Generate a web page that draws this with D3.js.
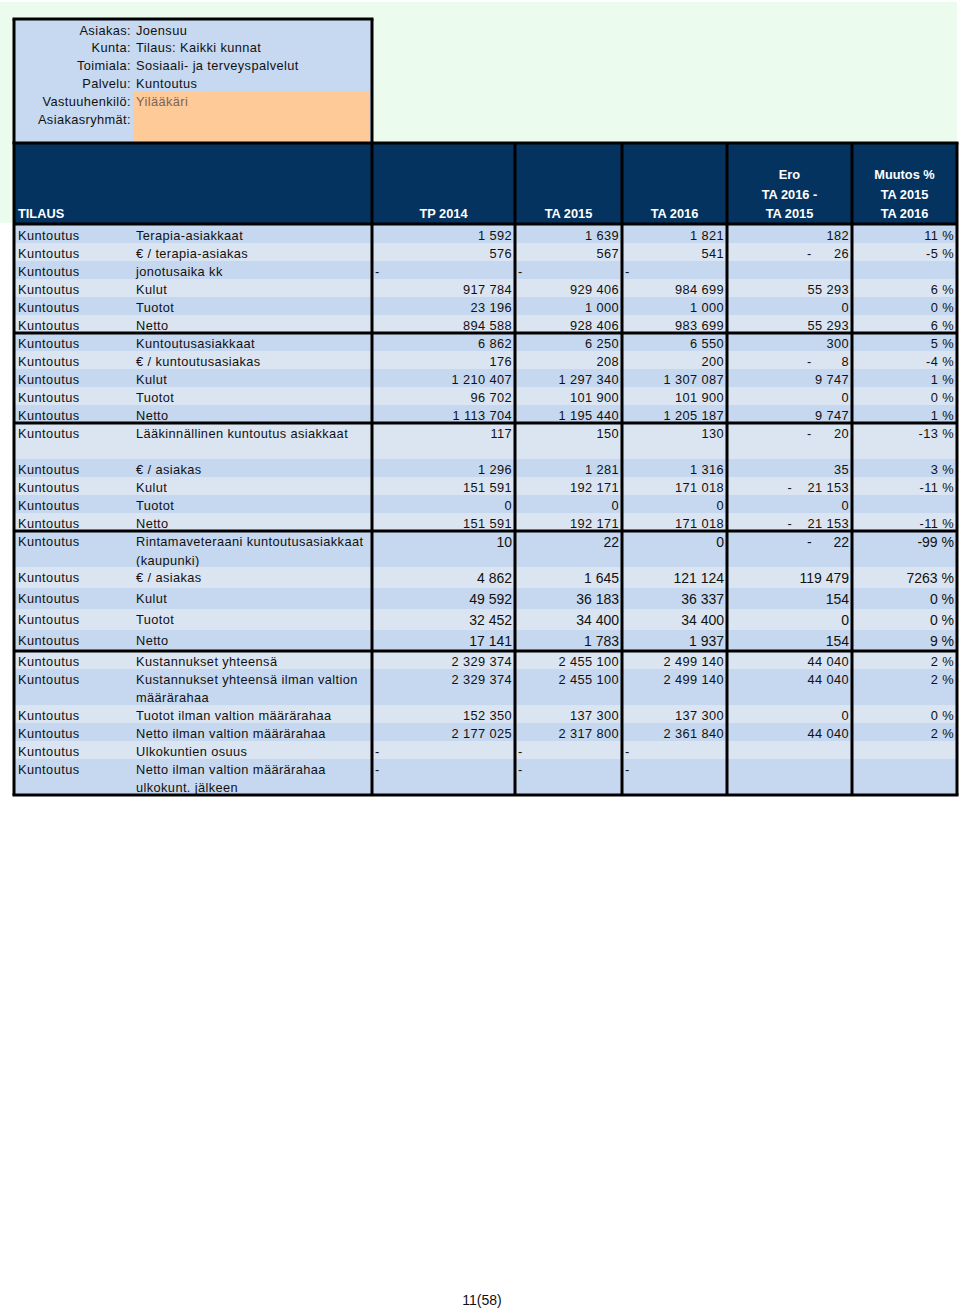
<!DOCTYPE html>
<html>
<head>
<meta charset="utf-8">
<script src="https://cdn.jsdelivr.net/npm/d3@7"></script>
<style>
  body { margin: 0; background: #fff; }
  svg text { font-family: "Liberation Sans", Arial, sans-serif; }
</style>
</head>
<body>
<script>
//-----------------Data----------------
const infoKeys = ["Asiakas:", "Kunta:", "Toimiala:", "Palvelu:", "Vastuuhenkilö:", "Asiakasryhmät:"];
const infoValues = ["Joensuu", "Tilaus: Kaikki kunnat", "Sosiaali- ja terveyspalvelut", "Kuntoutus", "Yilääkäri", ""];

const headTilaus = "TILAUS";
const headColumns = [["TP 2014"], ["TA 2015"], ["TA 2016"], ["Ero", "TA 2016 -", "TA 2015"], ["Muutos %", "TA 2015", "TA 2016"]];

const tilaus = "Kuntoutus";
const labels = [
  "Terapia-asiakkaat", "€ / terapia-asiakas", "jonotusaika kk", "Kulut", "Tuotot", "Netto",
  "Kuntoutusasiakkaat", "€ / kuntoutusasiakas", "Kulut", "Tuotot", "Netto",
  "Lääkinnällinen kuntoutus asiakkaat", "€ / asiakas", "Kulut", "Tuotot", "Netto",
  "Rintamaveteraani kuntoutusasiakkaat (kaupunki)", "€ / asiakas", "Kulut", "Tuotot", "Netto",
  "Kustannukset yhteensä", "Kustannukset yhteensä ilman valtion määrärahaa", "Tuotot ilman valtion määrärahaa",
  "Netto ilman valtion määrärahaa", "Ulkokuntien osuus", "Netto ilman valtion määrärahaa ulkokunt. jälkeen"
];
const groups = [0, 0, 0, 0, 0, 0, 1, 1, 1, 1, 1, 2, 2, 2, 2, 2, 3, 3, 3, 3, 3, 4, 4, 4, 4, 4, 4];
const rowSpans = [1, 1, 1, 1, 1, 1, 1, 1, 1, 1, 1, 2, 1, 1, 1, 1, 2, 1, 1, 1, 1, 1, 2, 1, 1, 1, 2];

// null = "-" in the year columns, blank in Ero / Muutos
const tp2014 = [1592, 576, null, 917784, 23196, 894588, 6862, 176, 1210407, 96702, 1113704,
  117, 1296, 151591, 0, 151591, 10, 4862, 49592, 32452, 17141, 2329374, 2329374, 152350, 2177025, null, null];
const ta2015 = [1639, 567, null, 929406, 1000, 928406, 6250, 208, 1297340, 101900, 1195440,
  150, 1281, 192171, 0, 192171, 22, 1645, 36183, 34400, 1783, 2455100, 2455100, 137300, 2317800, null, null];
const ta2016 = [1821, 541, null, 984699, 1000, 983699, 6550, 200, 1307087, 101900, 1205187,
  130, 1316, 171018, 0, 171018, 0, 121124, 36337, 34400, 1937, 2499140, 2499140, 137300, 2361840, null, null];
const ero = [182, -26, null, 55293, 0, 55293, 300, -8, 9747, 0, 9747,
  -20, 35, -21153, 0, -21153, -22, 119479, 154, 0, 154, 44040, 44040, 0, 44040, null, null];
const muutos = [11, -5, null, 6, 0, 6, 5, -4, 1, 0, 1,
  -13, 3, -11, null, -11, -99, 7263, 0, 0, 9, 2, 2, 0, 2, null, null];

const pageLabel = "11(58)";

//-----------------Layout----------------
const width = 960, height = 1311;
const bigGroup = 3;
const edges = [14, 133, 372, 515, 622, 727, 852, 957];
const colKeys = ["tilaus", "label", "tp2014", "ta2015", "ta2016", "ero", "muutos"];
const colLeft = d3.scaleOrdinal().domain(colKeys).range(edges.slice(0, 7));
const colRight = d3.scaleOrdinal().domain(colKeys).range(edges.slice(1));

const infoTop = 19, headTop = 143, dataTop = 225;
const navy = "#04335f", lightRow = "#dbe5f1", darkRow = "#c6d8ef", infoBlue = "#c6d9f0", orange = "#fdca98";

const rowHeights = labels.map((d, i) => rowSpans[i] === 2 ? 36 : (groups[i] === bigGroup ? 21 : 18));
const rowTops = [dataTop, ...d3.cumsum(rowHeights).map(v => v + dataTop)];
const dataBottom = rowTops[labels.length];

const fmt = v => d3.format(",")(Math.abs(v)).replace(/,/g, " ");

const svg = d3.select("body").append("svg").attr("width", width).attr("height", height);

// pale background behind the heading area
svg.append("rect").attr("x", 0).attr("y", 2).attr("width", 957).attr("height", 221).attr("fill", "#ebfcef");

//-----------------Info box----------------
svg.append("rect").attr("x", edges[0]).attr("y", infoTop).attr("width", edges[2] - edges[0]).attr("height", headTop - infoTop).attr("fill", infoBlue);
svg.append("rect").attr("x", edges[1]).attr("y", 92).attr("width", edges[2] - edges[1] - 2).attr("height", headTop - 93).attr("fill", orange);

const info = svg.selectAll("g.info").data(infoKeys).enter().append("g").attr("class", "info")
  .attr("transform", (d, i) => `translate(0, ${infoTop + 15.5 + i * 17.8})`);
info.append("text").attr("x", 131).attr("text-anchor", "end").attr("font-size", 12.8)
  .attr("letter-spacing", 0.4).attr("fill", "#111").text(d => d);
info.append("text").attr("x", 136).attr("font-size", 12.8).attr("letter-spacing", 0.4)
  .attr("fill", (d, i) => i === 4 ? "#7e6358" : "#111").text((d, i) => infoValues[i]);

//-----------------Header----------------
svg.append("rect").attr("x", edges[0]).attr("y", headTop).attr("width", edges[7] - edges[0]).attr("height", dataTop - headTop).attr("fill", navy);
svg.append("text").attr("x", 18).attr("y", 218).attr("fill", "#fff").attr("font-size", 12.8)
  .attr("font-weight", "bold").text(headTilaus);
headColumns.forEach((lines, c) => {
  const key = colKeys[c + 2];
  const cx = (colLeft(key) + colRight(key)) / 2;
  lines.forEach((t, j) => {
    svg.append("text").attr("x", cx).attr("y", 218 - (lines.length - 1 - j) * 19.5)
      .attr("text-anchor", "middle").attr("fill", "#fff").attr("font-size", 12.8)
      .attr("font-weight", "bold").text(t);
  });
});

//-----------------Rows----------------
const rows = svg.selectAll("g.row").data(labels).enter().append("g").attr("class", "row")
  .attr("transform", (d, i) => `translate(0, ${rowTops[i]})`);

rows.append("rect").attr("x", edges[0]).attr("width", edges[7] - edges[0])
  .attr("height", (d, i) => rowHeights[i])
  .attr("fill", (d, i) => i % 2 === 0 ? darkRow : lightRow);

rows.append("text").attr("x", 18).attr("y", 14.5).attr("font-size", 12.8).attr("letter-spacing", 0.45)
  .attr("fill", "#111").text(tilaus);

// label with wrapping
rows.each(function (d, i) {
  const g = d3.select(this);
  const t = g.append("text").attr("x", 136).attr("y", 14.5).attr("font-size", 12.8)
    .attr("letter-spacing", 0.4).attr("fill", "#111");
  const words = d.split(" ");
  let line = [], tspan = t.append("tspan").attr("x", 136).attr("dy", 0);
  words.forEach(w => {
    line.push(w);
    tspan.text(line.join(" "));
    if (tspan.node().getComputedTextLength() > edges[2] - 140 && line.length > 1) {
      line.pop();
      tspan.text(line.join(" "));
      line = [w];
      tspan = t.append("tspan").attr("x", 136).attr("dy", groups[i] === bigGroup ? 19 : 18).text(w);
    }
  });
});

const valueCols = [["tp2014", tp2014], ["ta2015", ta2015], ["ta2016", ta2016]];
rows.each(function (d, i) {
  const g = d3.select(this);
  const big = groups[i] === bigGroup;
  const fs = big ? 14 : 12.8;
  const ls = big ? 0 : 0.4;
  const base = big ? 16 : 14.5;
  valueCols.forEach(([key, arr]) => {
    const v = arr[i];
    if (v === null) {
      g.append("text").attr("x", colLeft(key) + 3).attr("y", base).attr("font-size", fs).attr("fill", "#111").text("-");
    } else {
      g.append("text").attr("x", colRight(key) - 3).attr("y", base).attr("text-anchor", "end")
        .attr("font-size", fs).attr("letter-spacing", ls).attr("fill", "#111").text(fmt(v));
    }
  });
  if (ero[i] !== null) {
    const num = g.append("text").attr("x", colRight("ero") - 3).attr("y", base).attr("text-anchor", "end")
      .attr("font-size", fs).attr("letter-spacing", ls).attr("fill", "#111").text(fmt(ero[i]));
    if (ero[i] < 0) {
      const w = num.node().getComputedTextLength();
      g.append("text").attr("x", Math.min(colLeft("ero") + 80, colRight("ero") - 3 - w - 20)).attr("y", base)
        .attr("font-size", fs).attr("fill", "#111").text("-");
    }
  }
  if (muutos[i] !== null) {
    g.append("text").attr("x", colRight("muutos") - 3).attr("y", base).attr("text-anchor", "end")
      .attr("font-size", fs).attr("letter-spacing", ls).attr("fill", "#111").text(muutos[i] + " %");
  }
});

//-----------------Grid lines----------------
const lineW = 3;
const hLine = (y, x1, x2) => svg.append("line").attr("x1", x1).attr("x2", x2).attr("y1", y).attr("y2", y)
  .attr("stroke", "#000").attr("stroke-width", lineW);
const vLine = (x, y1, y2) => svg.append("line").attr("x1", x).attr("x2", x).attr("y1", y1).attr("y2", y2)
  .attr("stroke", "#000").attr("stroke-width", lineW);

hLine(infoTop, edges[0] - 1.5, edges[2] + 1.5);
hLine(headTop, edges[0] - 1.5, edges[7] + 1.5);
hLine(dataTop - 1, edges[0], edges[7]);
groups.forEach((gId, i) => {
  if (i > 0 && gId !== groups[i - 1]) hLine(rowTops[i], edges[0], edges[7]);
});
hLine(dataBottom, edges[0] - 1.5, edges[7] + 1.5);

vLine(edges[0], infoTop, dataBottom);
vLine(edges[2], infoTop, dataBottom);
[3, 4, 5, 6].forEach(k => vLine(edges[k], headTop, dataBottom));
vLine(edges[7], headTop, dataBottom);

//-----------------Footer----------------
svg.append("text").attr("x", 482).attr("y", 1305).attr("text-anchor", "middle").attr("font-size", 14)
  .attr("fill", "#111").text(pageLabel);
</script>
</body>
</html>
